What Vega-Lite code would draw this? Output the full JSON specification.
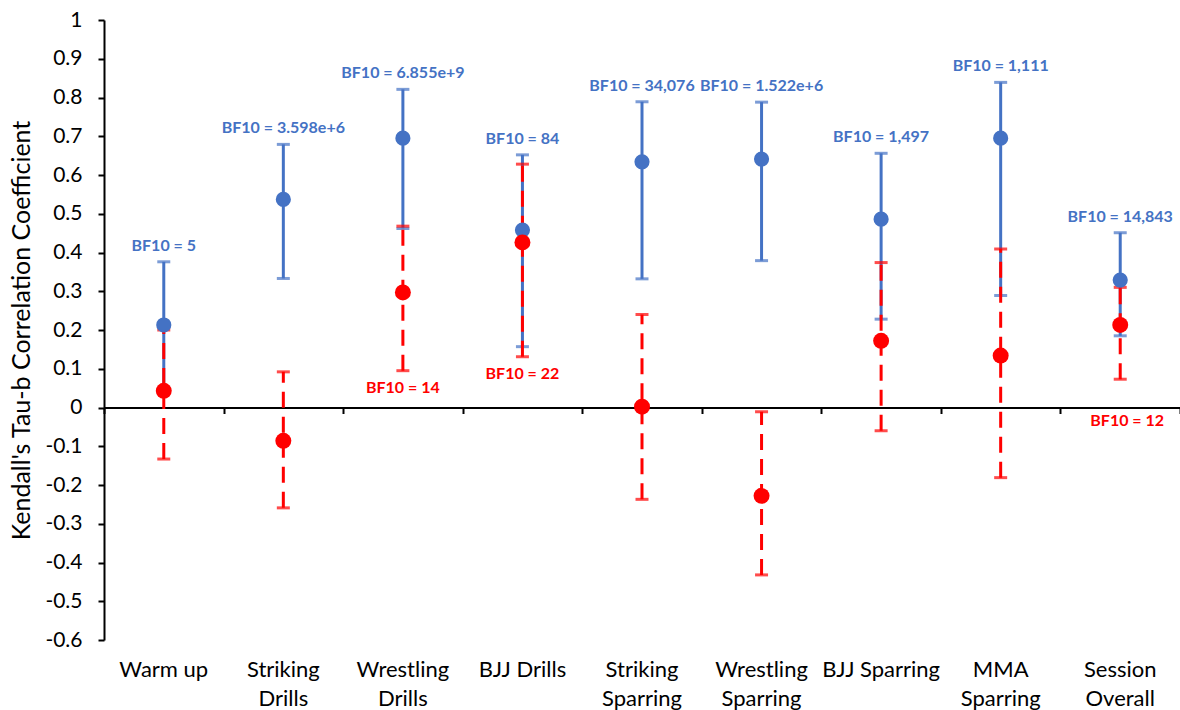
{
  "$schema": "https://vega.github.io/schema/vega-lite/v6.json",
  "width": 1076,
  "height": 620,
  "autosize": {"type": "none"},
  "padding": {"left": 104, "top": 20, "right": 0, "bottom": 70},
  "config": {
    "view": {"stroke": null},
    "font": "Lato"
  },
  "data": {
    "values": [
      {"cat": "Warm up", "b": 0.213, "bl": 0.05, "bh": 0.376, "r": 0.043, "rl": -0.133, "rh": 0.2, "bbf": "BF10 = 5", "rbf": null},
      {"cat": "Striking Drills", "b": 0.537, "bl": 0.333, "bh": 0.679, "r": -0.086, "rl": -0.259, "rh": 0.092, "bbf": "BF10 = 3.598e+6", "rbf": null},
      {"cat": "Wrestling Drills", "b": 0.695, "bl": 0.462, "bh": 0.821, "r": 0.297, "rl": 0.095, "rh": 0.468, "bbf": "BF10 = 6.855e+9", "rbf": "BF10 = 14"},
      {"cat": "BJJ Drills", "b": 0.458, "bl": 0.157, "bh": 0.652, "r": 0.426, "rl": 0.131, "rh": 0.628, "bbf": "BF10 = 84", "rbf": "BF10 = 22"},
      {"cat": "Striking Sparring", "b": 0.634, "bl": 0.332, "bh": 0.789, "r": 0.002, "rl": -0.237, "rh": 0.24, "bbf": "BF10 = 34,076", "rbf": null},
      {"cat": "Wrestling Sparring", "b": 0.641, "bl": 0.379, "bh": 0.788, "r": -0.228, "rl": -0.432, "rh": -0.011, "bbf": "BF10 = 1.522e+6", "rbf": null},
      {"cat": "BJJ Sparring", "b": 0.486, "bl": 0.228, "bh": 0.656, "r": 0.172, "rl": -0.06, "rh": 0.374, "bbf": "BF10 = 1,497", "rbf": null},
      {"cat": "MMA Sparring", "b": 0.695, "bl": 0.289, "bh": 0.839, "r": 0.134, "rl": -0.181, "rh": 0.409, "bbf": "BF10 = 1,111", "rbf": null},
      {"cat": "Session Overall", "b": 0.329, "bl": 0.185, "bh": 0.451, "r": 0.213, "rl": 0.073, "rh": 0.31, "bbf": "BF10 = 14,843", "rbf": "BF10 = 12"}
    ]
  },
  "resolve": {"axis": {"x": "independent", "y": "independent"}},
  "layer": [
    {
      "mark": {"type": "rule", "strokeWidth": 3, "stroke": "#4472C4"},
      "encoding": {
        "x": {
          "field": "cat", "type": "nominal", "sort": null,
          "scale": {"paddingInner": 0, "paddingOuter": 0},
          "axis": {
            "orient": "bottom",
            "title": null, "domain": false, "ticks": false,
            "labelFontSize": 22, "labelColor": "black", "labelAngle": 0,
            "labelPadding": 19, "labelBaseline": "top", "labelLineHeight": 29,
            "labelOverlap": false,
            "labelExpr": "indexof(['Warm up','BJJ Drills','BJJ Sparring'], datum.label) >= 0 ? datum.label : split(datum.label, ' ')"
          }
        },
        "y": {
          "field": "bl", "type": "quantitative",
          "scale": {"domain": [-0.6, 1], "nice": false, "zero": false},
          "axis": {
            "orient": "left",
            "title": "Kendall's Tau-b Correlation Coefficient",
            "titleFontSize": 25, "titleFontWeight": "normal", "titleColor": "black", "titlePadding": 10,
            "values": [-0.6, -0.5, -0.4, -0.3, -0.2, -0.1, 0, 0.1, 0.2, 0.3, 0.4, 0.5, 0.6, 0.7, 0.8, 0.9, 1],
            "labelOverlap": false,
            "labelExpr": "replace(format(datum.value, '~g'), '\u2212', '-')",
            "labelFontSize": 21, "labelColor": "black", "labelPadding": 16,
            "domainColor": "black", "domainWidth": 2, "tickColor": "black", "tickWidth": 2, "tickSize": 6,
            "grid": false
          }
        },
        "y2": {"field": "bh"}
      }
    },
    {
      "mark": {"type": "tick", "color": "#4472C4", "size": 13, "thickness": 3},
      "encoding": {
        "x": {"field": "cat", "type": "nominal", "sort": null, "axis": null},
        "y": {"field": "bh", "type": "quantitative", "axis": null}
      }
    },
    {
      "mark": {"type": "tick", "color": "#4472C4", "size": 13, "thickness": 3},
      "encoding": {
        "x": {"field": "cat", "type": "nominal", "sort": null, "axis": null},
        "y": {"field": "bl", "type": "quantitative", "axis": null}
      }
    },
    {
      "mark": {"type": "rule", "stroke": "#FF0000", "strokeWidth": 3, "strokeDash": [16, 9]},
      "encoding": {
        "x": {
          "field": "cat", "type": "nominal", "sort": null,
          "axis": {
            "orient": "bottom",
            "title": null, "labels": false, "offset": -232.5,
            "domain": true, "domainColor": "black", "domainWidth": 2,
            "ticks": true, "tickColor": "black", "tickWidth": 2, "tickSize": 6, "tickBand": "extent"
          }
        },
        "y": {"field": "rl", "type": "quantitative", "axis": null},
        "y2": {"field": "rh"}
      }
    },
    {
      "mark": {"type": "tick", "color": "#FF0000", "size": 13, "thickness": 3},
      "encoding": {
        "x": {"field": "cat", "type": "nominal", "sort": null, "axis": null},
        "y": {"field": "rh", "type": "quantitative", "axis": null}
      }
    },
    {
      "mark": {"type": "tick", "color": "#FF0000", "size": 13, "thickness": 3},
      "encoding": {
        "x": {"field": "cat", "type": "nominal", "sort": null, "axis": null},
        "y": {"field": "rl", "type": "quantitative", "axis": null}
      }
    },
    {
      "mark": {"type": "point", "shape": "circle", "filled": true, "opacity": 1, "color": "#4472C4", "size": 230},
      "encoding": {
        "x": {"field": "cat", "type": "nominal", "sort": null, "axis": null},
        "y": {"field": "b", "type": "quantitative", "axis": null}
      }
    },
    {
      "mark": {"type": "point", "shape": "circle", "filled": true, "opacity": 1, "color": "#FF0000", "size": 255},
      "encoding": {
        "x": {"field": "cat", "type": "nominal", "sort": null, "axis": null},
        "y": {"field": "r", "type": "quantitative", "axis": null}
      }
    },
    {
      "mark": {"type": "text", "color": "#4472C4", "fontWeight": "bold", "fontSize": 16, "dy": -11, "baseline": "alphabetic", "align": "center"},
      "encoding": {
        "x": {"field": "cat", "type": "nominal", "sort": null, "axis": null},
        "y": {"field": "bh", "type": "quantitative", "axis": null},
        "text": {"field": "bbf"}
      }
    },
    {
      "transform": [{"filter": "datum.rbf != null && datum.cat != 'Session Overall'"}],
      "mark": {"type": "text", "color": "#FF0000", "fontWeight": "bold", "fontSize": 16, "dy": 17, "baseline": "middle", "align": "center"},
      "encoding": {
        "x": {"field": "cat", "type": "nominal", "sort": null, "axis": null},
        "y": {"field": "rl", "type": "quantitative", "axis": null},
        "text": {"field": "rbf"}
      }
    },
    {
      "transform": [{"filter": "datum.cat == 'Session Overall'"}],
      "mark": {"type": "text", "color": "#FF0000", "fontWeight": "bold", "fontSize": 16, "dy": 42, "dx": 7, "baseline": "middle", "align": "center"},
      "encoding": {
        "x": {"field": "cat", "type": "nominal", "sort": null, "axis": null},
        "y": {"field": "rl", "type": "quantitative", "axis": null},
        "text": {"field": "rbf"}
      }
    }
  ]
}
